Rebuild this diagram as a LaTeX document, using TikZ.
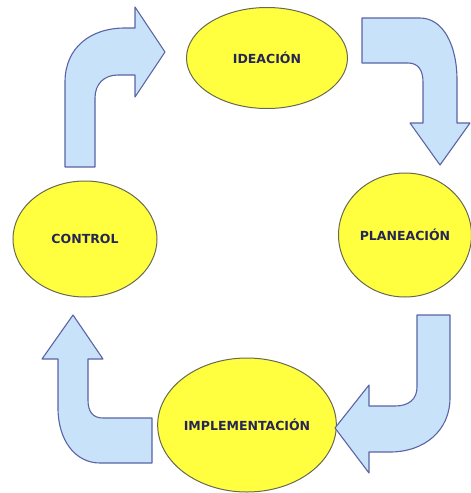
\documentclass[tikz,border=0pt]{standalone}
\usepackage{fontspec}
\setmainfont{DejaVu Sans}
\usetikzlibrary{shapes.geometric}
\definecolor{stagefill}{RGB}{255,255,64}
\definecolor{stageline}{RGB}{105,105,80}
\definecolor{stagetext}{RGB}{38,38,85}
\definecolor{bendfill}{RGB}{200,226,250}
\definecolor{bendline}{RGB}{90,100,165}
\tikzset{
  stage/.style={ellipse, draw=stageline, fill=stagefill, line width=1pt,
    inner sep=0pt, text=stagetext,
    font=\fontsize{12.5}{14}\selectfont\bfseries},
  bentarrow/.style={draw=bendline, fill=bendfill, line width=1.1pt, line join=round}
}
\begin{document}
\begin{tikzpicture}[x=1pt, y=-1pt]
\useasboundingbox (0,0) rectangle (471,493);

% the four stages of the cycle
\node[stage, minimum width=161pt, minimum height=101pt] (idea) at (267,58) {IDEACIÓN};
\node[stage, minimum width=133pt, minimum height=124pt] (plan) at (405,235) {PLANEACIÓN};
\node[stage, minimum width=178pt, minimum height=134pt] (impl) at (247,425) {IMPLEMENTACIÓN};
\node[stage, minimum width=144pt, minimum height=116pt] (ctrl) at (85,239) {CONTROL};

% bent block arrows between the stages
% control -> ideacion
\draw[bentarrow] (65,167) -- (65,82) .. controls (65,48) and (90,28) .. (125,28)
  -- (135,28) -- (135,7) -- (165,52) -- (135,97) -- (135,75) -- (118,75)
  .. controls (104,75) and (95,84) .. (95,98) -- (95,167) -- cycle;
% ideacion -> planeacion
\draw[bentarrow] (362,18) -- (420,18) .. controls (443,18) and (457,45) .. (457,80)
  -- (457,123) -- (470,123) -- (440,165) -- (410,123) -- (423,123)
  -- (423,82) .. controls (423,70) and (418,63) .. (408,63) -- (362,63) -- cycle;
% planeacion -> implementacion
\draw[bentarrow] (417,315) -- (450,315) -- (450,398) .. controls (450,430) and (425,452) .. (390,452)
  -- (369,452) -- (369,473) -- (335,428) -- (369,385) -- (369,406) -- (395,406)
  .. controls (409,406) and (417,399) .. (417,387) -- cycle;
% implementacion -> control
\draw[bentarrow] (152,463) -- (100,463) .. controls (75,463) and (58,440) .. (58,408)
  -- (58,359) -- (42,359) -- (73,315) -- (103,359) -- (88,359) -- (88,400)
  .. controls (88,412) and (93,418) .. (103,418) -- (152,418) -- cycle;
\end{tikzpicture}
\end{document}
